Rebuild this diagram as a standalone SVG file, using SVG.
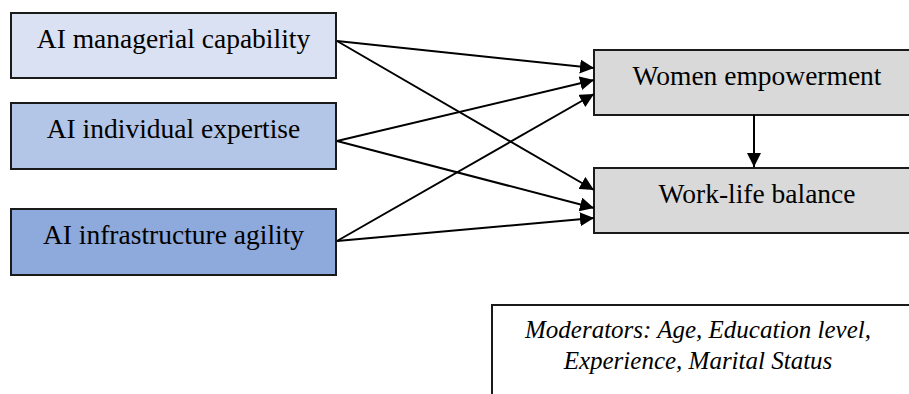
<svg xmlns="http://www.w3.org/2000/svg" width="909" height="394" viewBox="0 0 909 394">
<defs>
<style>
.box{stroke:#1a1a1a;stroke-width:2}
.t{font-family:"Liberation Serif","Times New Roman",serif;font-size:27.5px;fill:#000;text-anchor:middle}
.m{font-family:"Liberation Serif","Times New Roman",serif;font-size:25px;font-style:italic;fill:#000;text-anchor:middle}
.c{stroke:#000;stroke-width:2;fill:none;marker-end:url(#ah)}
</style>
<marker id="ah" viewBox="0 0 10 10" refX="10" refY="5" markerWidth="7" markerHeight="7" markerUnits="strokeWidth" orient="auto">
<path d="M0,0 L10,5 L0,10 z" fill="#000"/>
</marker>
</defs>
<rect width="909" height="394" fill="#fff"/>
<g id="n1"><rect class="box" x="11" y="13" width="325" height="65" fill="#D9E1F2"/><text class="t" x="173.5" y="48">AI managerial capability</text></g>
<g id="n2"><rect class="box" x="11" y="103" width="325" height="66" fill="#B4C6E7"/><text class="t" x="173.5" y="138">AI individual expertise</text></g>
<g id="n3"><rect class="box" x="11" y="209" width="325" height="66" fill="#8EA9DB"/><text class="t" x="173.5" y="244">AI infrastructure agility</text></g>
<g id="n4"><rect class="box" x="594" y="50" width="330" height="65" fill="#D9D9D9"/><text class="t" x="757" y="85">Women empowerment</text></g>
<g id="n5"><rect class="box" x="594" y="168" width="330" height="65" fill="#D9D9D9"/><text class="t" x="757" y="203">Work-life balance</text></g>
<g id="n6"><rect class="box" x="492" y="305" width="430" height="100" fill="#fff"/><text class="m" x="698" y="338">Moderators: Age, Education level,</text><text class="m" x="698" y="369">Experience, Marital Status</text></g>
<g id="connectors">
<line class="c" x1="337" y1="41" x2="594" y2="68"/>
<line class="c" x1="337" y1="41" x2="594" y2="190"/>
<line class="c" x1="337" y1="141" x2="594" y2="80"/>
<line class="c" x1="337" y1="141" x2="594" y2="208"/>
<line class="c" x1="337" y1="241" x2="594" y2="94"/>
<line class="c" x1="337" y1="241" x2="594" y2="218"/>
<line class="c" x1="754" y1="115" x2="754" y2="167"/>
</g>
</svg>
